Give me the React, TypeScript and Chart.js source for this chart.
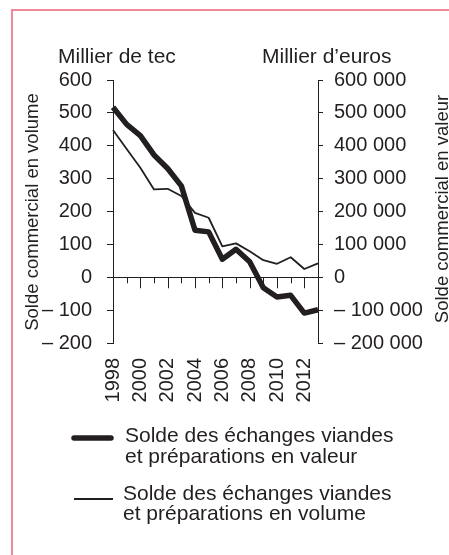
import React, { useEffect, useRef } from "react";
import { Chart, registerables } from "chart.js";

Chart.register(...registerables);

const years = ["1998", "1999", "2000", "2001", "2002", "2003", "2004", "2005", "2006", "2007", "2008", "2009", "2010", "2011", "2012", "2013"];
// Solde en valeur (millier d'euros) - right axis
const valeurValues = [517000, 465000, 431000, 372000, 331000, 278000, 143000, 138000, 55000, 85000, 47000, -32000, -60000, -55000, -109000, -99000];
// Solde en volume (millier de tec) - left axis
const volumeValues = [448, 390, 333, 267, 269, 247, 196, 181, 94, 103, 79, 52, 41, 61, 25, 42];

const leftTitle = "Millier de tec";
const rightTitle = "Millier d\u2019euros";
const leftAxisTitle = "Solde commercial en volume";
const rightAxisTitle = "Solde commercial en valeur";
const legendValeur = ["Solde des \u00e9changes viandes", "et pr\u00e9parations en valeur"];
const legendVolume = ["Solde des \u00e9changes viandes", "et pr\u00e9parations en volume"];

const DARK = "#231f20";
const FONT = "'Liberation Sans', Arial, sans-serif";

function groupNumber(n: number): string {
  const s = String(Math.abs(Math.round(n)));
  return s.replace(/\B(?=(\d{3})+(?!\d))/g, " ");
}
function fmt(v: number): string {
  if (v < 0) return "\u2013 " + groupNumber(-v);
  return groupNumber(v);
}

const decorPlugin = {
  id: "decor",
  afterDraw(chart: any) {
    const ctx = chart.ctx as CanvasRenderingContext2D;
    const xs = chart.scales.x;
    const yl = chart.scales.y;
    ctx.save();
    // pink frame (left and top edges only)
    ctx.fillStyle = "#ee8a9b";
    ctx.fillRect(11, 9, 2, 546);
    ctx.fillRect(11, 9, 438, 2);

    // x tick marks below zero line
    const y0 = yl.getPixelForValue(0);
    ctx.strokeStyle = DARK;
    ctx.lineWidth = 1;
    for (let i = 1; i < years.length - 1; i++) {
      const x = Math.round(xs.getPixelForValue(i)) + 0.5;
      const len = i % 2 === 0 ? 11 : 6;
      ctx.beginPath();
      ctx.moveTo(x, y0);
      ctx.lineTo(x, y0 + len);
      ctx.stroke();
    }

    ctx.fillStyle = DARK;
    ctx.textBaseline = "alphabetic";
    ctx.textAlign = "left";
    ctx.font = `21px ${FONT}`;
    ctx.fillText(leftTitle, 58, 63);
    ctx.fillText(rightTitle, 262, 63);

    // rotated axis titles
    ctx.font = `18.5px ${FONT}`;
    ctx.textAlign = "center";
    ctx.save();
    ctx.translate(38, 212);
    ctx.rotate(-Math.PI / 2);
    ctx.fillText(leftAxisTitle, 0, 0);
    ctx.restore();
    ctx.save();
    ctx.translate(448, 209);
    ctx.rotate(-Math.PI / 2);
    ctx.fillText(rightAxisTitle, 0, 0);
    ctx.restore();

    // legend
    ctx.strokeStyle = DARK;
    ctx.lineCap = "round";
    ctx.lineWidth = 5.5;
    ctx.beginPath();
    ctx.moveTo(74, 438);
    ctx.lineTo(111, 438);
    ctx.stroke();
    ctx.lineCap = "butt";
    ctx.lineWidth = 2;
    ctx.beginPath();
    ctx.moveTo(74, 499);
    ctx.lineTo(113, 499);
    ctx.stroke();

    ctx.font = `21px ${FONT}`;
    ctx.textAlign = "left";
    ctx.fillText(legendValeur[0], 125, 442);
    ctx.fillText(legendValeur[1], 125, 463);
    ctx.fillText(legendVolume[0], 123, 500);
    ctx.fillText(legendVolume[1], 123, 520);
    ctx.restore();
  },
};

export default function App() {
  const ref = useRef<HTMLCanvasElement | null>(null);
  useEffect(() => {
    if (!ref.current) return;
    const font = { family: FONT, size: 20 };
    const chart = new Chart(ref.current, {
      type: "line",
      data: {
        labels: years,
        datasets: [
          {
            label: "valeur",
            data: valeurValues,
            yAxisID: "y2",
            borderColor: DARK,
            borderWidth: 5.5,
            pointRadius: 0,
            tension: 0,
            borderJoinStyle: "round",
            fill: false,
          },
          {
            label: "volume",
            data: volumeValues,
            yAxisID: "y",
            borderColor: DARK,
            borderWidth: 1.8,
            pointRadius: 0,
            tension: 0,
            borderJoinStyle: "round",
            fill: false,
          },
        ],
      },
      options: {
        responsive: false,
        animation: false,
        devicePixelRatio: 1,
        layout: { padding: { top: 80, left: 0, right: 0, bottom: 0 } },
        plugins: { legend: { display: false }, tooltip: { enabled: false }, title: { display: false } },
        scales: {
          x: {
            type: "category",
            position: "bottom",
            offset: false,
            grid: { display: false, drawTicks: false },
            border: { display: false },
            ticks: {
              autoSkip: false,
              maxRotation: 90,
              minRotation: 90,
              padding: 15,
              color: DARK,
              font,
              callback: (_v: any, i: number) => (i % 2 === 0 ? years[i] : ""),
            },
            afterFit: (s: any) => {
              s.height = 212;
            },
          },
          y: {
            position: "left",
            min: -200,
            max: 600,
            ticks: { stepSize: 100, padding: 15, color: DARK, font, callback: (v: any) => fmt(Number(v)) },
            grid: {
              color: (c: any) => (c.tick && c.tick.value === 0 ? DARK : "rgba(0,0,0,0)"),
              tickColor: DARK,
              tickLength: 6,
              lineWidth: 1,
            },
            border: { display: true, color: DARK, width: 1 },
            afterFit: (s: any) => {
              s.width = 113;
            },
          },
          y2: {
            position: "right",
            min: -200000,
            max: 600000,
            ticks: { stepSize: 100000, padding: 11, color: DARK, font, callback: (v: any) => fmt(Number(v)) },
            grid: { drawOnChartArea: false, tickColor: DARK, tickLength: 5, lineWidth: 1 },
            border: { display: true, color: DARK, width: 1 },
            afterFit: (s: any) => {
              s.width = 131;
            },
          },
        },
      } as any,
      plugins: [decorPlugin],
    });
    return () => chart.destroy();
  }, []);
  return (
    <div style={{ position: "absolute", left: 0, top: 0, width: 449, height: 555, background: "#fff" }}>
      <canvas ref={ref} width={449} height={555} style={{ display: "block", width: 449, height: 555 }} />
    </div>
  );
}
